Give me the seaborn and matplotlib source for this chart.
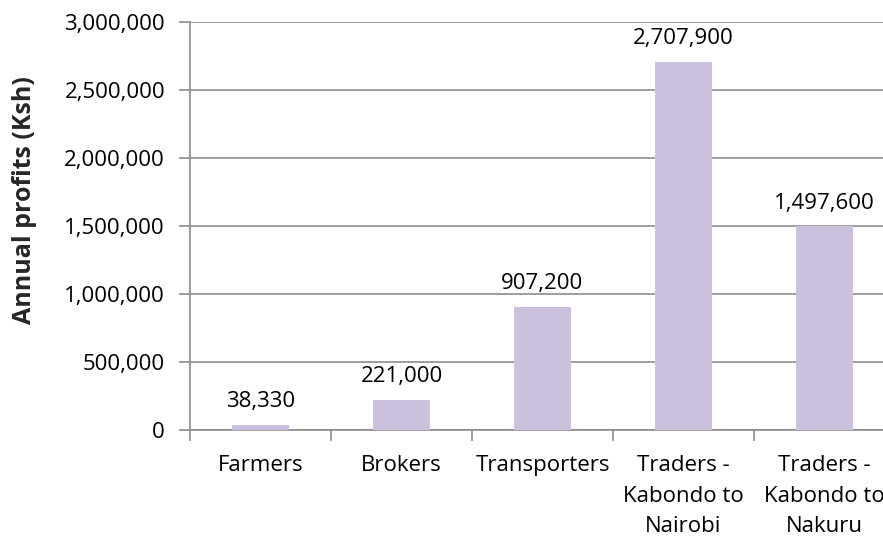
import matplotlib
matplotlib.use("Agg")
import matplotlib.pyplot as plt
import seaborn as sns
import pandas as pd
from matplotlib.ticker import FuncFormatter

categories = ["Farmers", "Brokers", "Transporters",
              "Traders -\nKabondo to\nNairobi", "Traders -\nKabondo to\nNakuru"]
profits = [38330, 221000, 907200, 2707900, 1497600]
yticks = [0, 500000, 1000000, 1500000, 2000000, 2500000, 3000000]

sns.set_theme(style="white")
plt.rcParams['font.family'] = ['Open Sans', 'DejaVu Sans']

df = pd.DataFrame({"cat": categories, "val": profits})

fig = plt.figure(figsize=(8.83, 5.38), dpi=100)
ax = fig.add_axes([190/883, 1-430/538, 705/883, (430-22)/538])

sns.barplot(data=df, x="cat", y="val", color="#CBC1DC", width=0.4,
            saturation=1, ax=ax, zorder=3, linewidth=0)

ax.set_ylim(0, 3000000)
ax.set_xlim(-0.5, 4.5)
ax.set_yticks(yticks)
ax.yaxis.set_major_formatter(FuncFormatter(lambda v, p: f"{int(v):,}"))
ax.grid(axis="y", color="#8C8C8C", linewidth=1.2, zorder=0)
ax.set_xlabel("")
ax.set_ylabel("Annual profits (Ksh)", fontsize=18, fontweight="bold")
ax.yaxis.set_label_coords(-(190 - 37) / 705, (430 - 200) / 408)

for s in ["top", "right"]:
    ax.spines[s].set_visible(False)
for s in ["left", "bottom"]:
    ax.spines[s].set_color("#8C8C8C")
    ax.spines[s].set_linewidth(1.2)

FS = 16
ax.tick_params(axis="y", which="major", length=8, width=1.2, color="#8C8C8C",
               labelsize=FS, left=True, pad=10)
ax.set_xticks(list(range(len(categories))))
ax.set_xticklabels(categories, linespacing=1.6, va="top")
ax.tick_params(axis="x", which="major", length=0, labelsize=FS, pad=18)
ax.set_xticks([-0.5, 0.5, 1.5, 2.5, 3.5, 4.5], minor=True)
ax.tick_params(axis="x", which="minor", length=8, width=1.2, color="#8C8C8C", bottom=True)

for i, v in enumerate(profits):
    ax.annotate(f"{v:,}", (i, v), xytext=(0, 9), textcoords="offset points",
                ha="center", va="bottom", fontsize=FS, color="black")

for lbl in ax.get_yticklabels() + ax.get_xticklabels():
    lbl.set_color("black")

fig.savefig("out.png", dpi=100)
